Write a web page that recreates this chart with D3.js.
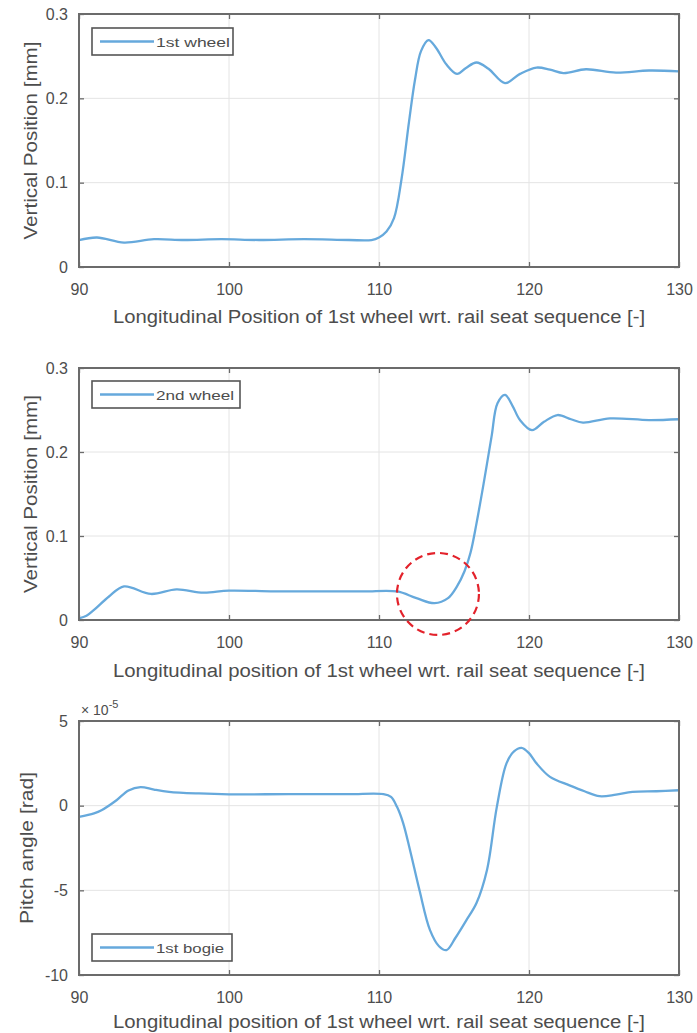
<!DOCTYPE html>
<html>
<head>
<meta charset="utf-8">
<script src="https://cdn.jsdelivr.net/npm/d3@7"></script>
<style>
body { margin: 0; background: #fff; }
text { font-family: Arial, "Liberation Sans", sans-serif; fill: #4d4d4d; }
</style>
</head>
<body>
<script>
var xTicks = [90, 100, 110, 120, 130];
var yTicksWheel = [0, 0.1, 0.2, 0.3];
var yTicksPitch = [5, 0, -5, -10];

// 1st wheel vertical position [mm]
var wheel1X = [90, 91.2, 93, 95, 97, 99.5, 102, 105, 108, 109.5, 110, 110.5, 111, 111.5, 112, 112.4, 112.8, 113.3, 113.8, 114.5, 115.2, 115.8, 116.5, 117.3, 118.4, 119.4, 120.5, 121.4, 122.3, 123.8, 125.8, 128, 130];
var wheel1Y = [0.032, 0.035, 0.029, 0.033, 0.032, 0.033, 0.032, 0.033, 0.032, 0.032, 0.035, 0.042, 0.058, 0.104, 0.172, 0.222, 0.256, 0.269, 0.26, 0.24, 0.229, 0.236, 0.2425, 0.235, 0.218, 0.229, 0.2365, 0.234, 0.23, 0.2345, 0.2305, 0.233, 0.232];

// 2nd wheel vertical position [mm]
var wheel2X = [90, 90.5, 91, 92, 93, 94.8, 96.5, 98.3, 100, 103, 106, 109, 111.2, 112.5, 113.7, 114.6, 115.2, 115.7, 116.1, 116.5, 117, 117.5, 117.9, 118.4, 118.9, 119.4, 120.2, 121, 121.9, 122.8, 123.6, 125.4, 128, 130];
var wheel2Y = [0.002, 0.005, 0.012, 0.028, 0.04, 0.031, 0.0365, 0.0325, 0.035, 0.034, 0.034, 0.034, 0.034, 0.026, 0.02, 0.026, 0.04, 0.058, 0.08, 0.115, 0.165, 0.218, 0.258, 0.268, 0.255, 0.238, 0.226, 0.236, 0.244, 0.239, 0.235, 0.24, 0.238, 0.239];

// 1st bogie pitch angle [x 1e-5 rad]
var bogieX = [90, 91, 91.5, 92.5, 93.3, 94.1, 95, 96, 98, 100, 104, 108, 110.3, 110.8, 111.2, 111.6, 112.07, 112.7, 113.4, 114, 114.5, 115.1, 115.8, 116.5, 117.2, 117.85, 118.5, 119, 119.5, 120, 120.5, 121.4, 122.7, 123.7, 124.7, 125.8, 126.9, 128.5, 130];
var bogieY = [-0.66, -0.45, -0.27, 0.32, 0.9, 1.1, 0.95, 0.82, 0.72, 0.67, 0.68, 0.68, 0.68, 0.52, -0.07, -1.0, -2.63, -5.0, -7.35, -8.3, -8.53, -7.8, -6.8, -5.75, -3.8, -0.1, 2.5, 3.2, 3.41, 3.1, 2.5, 1.7, 1.2, 0.85, 0.56, 0.65, 0.81, 0.85, 0.91];

// highlighted dip on the 2nd wheel
var markX = 113.93, markY = 0.031;

var W = 697, H = 1033;
var left = 79, right = 679;
var lineColor = '#66a9dc', boxColor = '#6b6b6b', gridColor = '#e4e4e4';

var svg = d3.select('body').append('svg').attr('width', W).attr('height', H);
var x = d3.scaleLinear().domain([90, 130]).range([left, right]);

function panel(o) {
  var y = d3.scaleLinear().domain(o.domain).range([o.bottom, o.top]);
  var g = svg.append('g');

  // grid
  g.append('g').selectAll('line').data(xTicks).enter().append('line')
    .attr('x1', function (d) { return x(d); }).attr('x2', function (d) { return x(d); })
    .attr('y1', o.top).attr('y2', o.bottom).attr('stroke', gridColor).attr('stroke-width', 1);
  g.append('g').selectAll('line').data(o.yTicks).enter().append('line')
    .attr('x1', left).attr('x2', right)
    .attr('y1', function (d) { return y(d); }).attr('y2', function (d) { return y(d); })
    .attr('stroke', gridColor).attr('stroke-width', 1);

  // axes (inside ticks on all four sides)
  var xb = g.append('g').attr('transform', 'translate(0,' + o.bottom + ')')
    .call(d3.axisBottom(x).tickValues(xTicks).tickSize(-5).tickPadding(17));
  var xt = g.append('g').attr('transform', 'translate(0,' + o.top + ')')
    .call(d3.axisTop(x).tickValues(xTicks).tickSize(-5).tickFormat(''));
  var yl = g.append('g').attr('transform', 'translate(' + left + ',0)')
    .call(d3.axisLeft(y).tickValues(o.yTicks).tickSize(-5).tickPadding(11).tickFormat(function (d) { return String(d); }));
  var yr = g.append('g').attr('transform', 'translate(' + right + ',0)')
    .call(d3.axisRight(y).tickValues(o.yTicks).tickSize(-5).tickFormat(''));
  [xb, xt, yl, yr].forEach(function (a) {
    a.select('.domain').remove();
    a.selectAll('.tick line').attr('stroke', boxColor).attr('stroke-width', 1.3);
    a.selectAll('.tick text').attr('font-size', 16).attr('fill', '#4a4a4a')
      .style('font-family', 'Arial, "Liberation Sans", sans-serif');
  });

  // data line
  var line = d3.line()
    .x(function (d) { return x(d[0]); })
    .y(function (d) { return y(d[1]); })
    .curve(d3.curveCatmullRom.alpha(0.5));
  g.append('path').datum(d3.zip(o.xs, o.ys)).attr('d', line)
    .attr('fill', 'none').attr('stroke', lineColor).attr('stroke-width', 2.3);

  // box
  g.append('rect').attr('x', left).attr('y', o.top)
    .attr('width', right - left).attr('height', o.bottom - o.top)
    .attr('fill', 'none').attr('stroke', boxColor).attr('stroke-width', 2);

  // legend
  var lg = g.append('g').attr('transform', 'translate(92,' + o.legendY + ')');
  lg.append('rect').attr('x', 0).attr('y', 0).attr('width', o.legendW).attr('height', 27)
    .attr('fill', '#fff').attr('stroke', '#555').attr('stroke-width', 1.6);
  lg.append('line').attr('x1', 8).attr('x2', 62).attr('y1', 13.5).attr('y2', 13.5)
    .attr('stroke', lineColor).attr('stroke-width', 2.3);
  lg.append('text').attr('x', 64).attr('y', 18.5).attr('font-size', 12.5)
    .attr('textLength', o.legendTextW).attr('lengthAdjust', 'spacingAndGlyphs')
    .attr('fill', '#222').text(o.legend);

  // axis labels
  g.append('text').attr('x', 379).attr('y', o.bottom + o.xlabelOff).attr('text-anchor', 'middle')
    .attr('font-size', 18).attr('textLength', 532).attr('lengthAdjust', 'spacingAndGlyphs')
    .text(o.xlabel);
  g.append('text').attr('transform', 'translate(' + o.ylabelX + ',' + ((o.top + o.bottom) / 2) + ') rotate(-90)')
    .attr('text-anchor', 'middle').attr('font-size', 18)
    .attr('textLength', o.ylabelW).attr('lengthAdjust', 'spacingAndGlyphs')
    .text(o.ylabel);

  return { g: g, y: y };
}

panel({
  top: 14, bottom: 267, domain: [0, 0.3], yTicks: yTicksWheel,
  xs: wheel1X, ys: wheel1Y, legend: '1st wheel', legendY: 28, legendW: 141, legendTextW: 74,
  xlabel: 'Longitudinal Position of 1st wheel wrt. rail seat sequence [-]', xlabelOff: 56,
  ylabel: 'Vertical Position [mm]', ylabelX: 37, ylabelW: 198
});

var mid = panel({
  top: 368, bottom: 620, domain: [0, 0.3], yTicks: yTicksWheel,
  xs: wheel2X, ys: wheel2Y, legend: '2nd wheel', legendY: 381, legendW: 148, legendTextW: 78,
  xlabel: 'Longitudinal position of 1st wheel wrt. rail seat sequence [-]', xlabelOff: 57,
  ylabel: 'Vertical Position [mm]', ylabelX: 37, ylabelW: 198
});

mid.g.append('circle').attr('cx', x(markX)).attr('cy', mid.y(markY)).attr('r', 41)
  .attr('fill', 'none').attr('stroke', '#e3222b').attr('stroke-width', 2.2)
  .attr('stroke-dasharray', '8,5');

var bot = panel({
  top: 721, bottom: 975, domain: [-10, 5], yTicks: yTicksPitch,
  xs: bogieX, ys: bogieY, legend: '1st bogie', legendY: 934, legendW: 140, legendTextW: 68,
  xlabel: 'Longitudinal position of 1st wheel wrt. rail seat sequence [-]', xlabelOff: 53,
  ylabel: 'Pitch angle [rad]', ylabelX: 33, ylabelW: 152
});

// exponent note
var ex = bot.g.append('text').attr('x', 81).attr('y', 715).attr('font-size', 14);
ex.append('tspan').text('\u00d7 10');
ex.append('tspan').attr('dy', -7).attr('font-size', 11).text('-5');
</script>
</body>
</html>
